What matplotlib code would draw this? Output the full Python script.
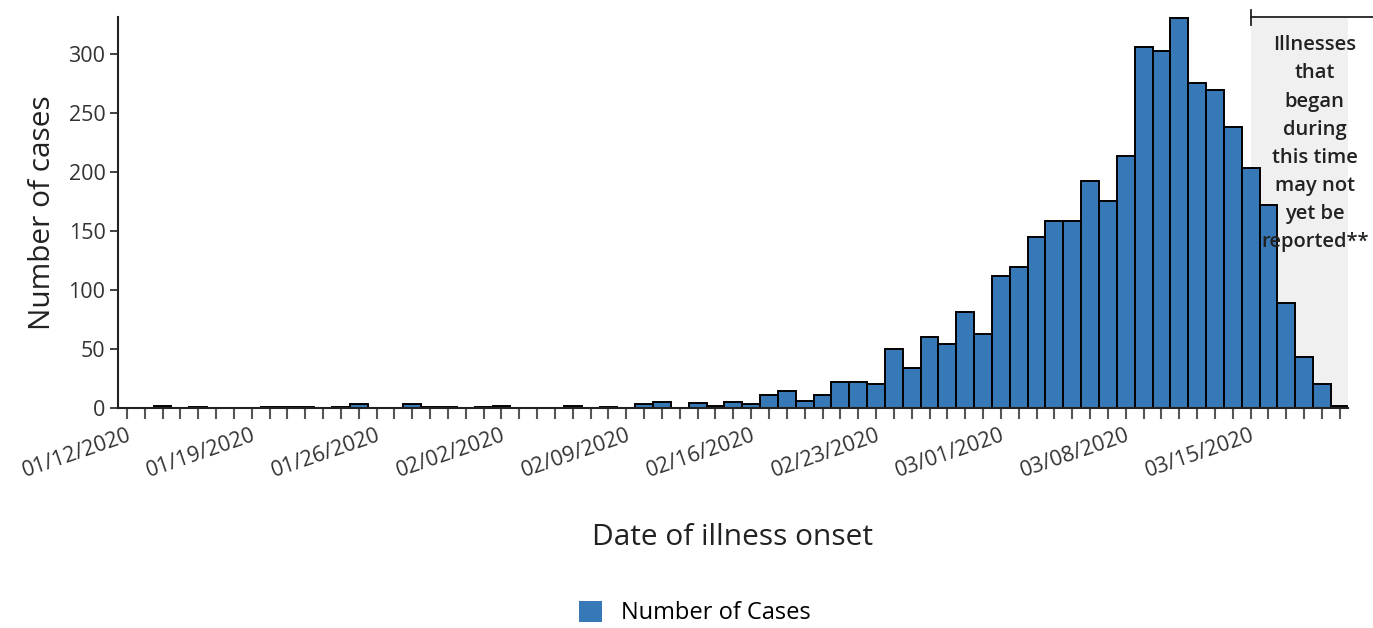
import pandas as pd
import matplotlib.pyplot as plt
import matplotlib.dates as mdates
from matplotlib.patches import Patch

plt.rcParams['font.family'] = ['Open Sans', 'DejaVu Sans']

# ---------------- data
start_date = '2020-01-12'
cases = [0, 0, 2, 0, 1, 0, 0, 0, 1, 1, 1, 0, 1, 3,
         0, 0, 3, 1, 1, 0, 1, 2, 0, 0, 0, 2, 0, 1,
         0, 3, 5, 0, 4, 2, 5, 3, 11, 14, 6, 11, 22, 22,
         20, 50, 34, 60, 54, 81, 63, 112, 119, 145, 158, 158, 192, 175,
         213, 306, 302, 330, 275, 269, 238, 203, 172, 89, 43, 20, 2]
dates = pd.date_range(start_date, periods=len(cases), freq='D')
pending_start = '2020-03-15'
note = "Illnesses\nthat\nbegan\nduring\nthis time\nmay not\nyet be\nreported**"
# ----------------

bar_color = '#3779b6'

fig = plt.figure(figsize=(13.73, 6.28), dpi=100)
ax = fig.add_axes([0.0859, 0.3503, 0.8959, 0.6226])

x = mdates.date2num(dates)
x_pend = mdates.date2num(pd.Timestamp(pending_start))
x_min = x[0] - 0.5
x_max = x[-1] + 0.46

# grey band for the reporting lag
ax.axvspan(x_pend, x_max, ymin=0, ymax=0.998, color='#f0f0f0', zorder=0, lw=0)

ax.bar(x, cases, width=1.0, color=bar_color, edgecolor='black', linewidth=1.4, zorder=2)

ax.set_xlim(x_min, x_max)
ax.set_ylim(0, 331)
ax.set_yticks(range(0, 301, 50))

ax.xaxis.set_major_locator(mdates.WeekdayLocator(byweekday=mdates.SU))
ax.xaxis.set_major_formatter(mdates.DateFormatter('%m/%d/%Y'))
ax.xaxis.set_minor_locator(mdates.DayLocator())

for s in ['top', 'right']:
    ax.spines[s].set_visible(False)
for s in ['left', 'bottom']:
    ax.spines[s].set_color('#222222')
    ax.spines[s].set_linewidth(1.5)

ax.tick_params(axis='y', length=6, width=1.3, color='#333333', labelsize=15.5, labelcolor='#333333', pad=3)
ax.tick_params(axis='x', which='both', length=8, width=1.5, color='#555555', labelsize=15.5, labelcolor='#333333', pad=4)
plt.setp(ax.get_xticklabels(), rotation=19, ha='right', rotation_mode='anchor')

ax.set_ylabel('Number of cases', fontsize=21.5, color='#222222', labelpad=8)
ax.set_xlabel('Date of illness onset', fontsize=21.5, color='#222222', labelpad=30)

# bracket over the grey band
tr = ax.get_xaxis_transform()
ax.plot([x_pend, x_pend + 6.85], [1.0, 1.0], color='#222222', lw=1.3, transform=tr, clip_on=False)
ax.plot([x_pend, x_pend], [0.98, 1.018], color='#222222', lw=1.3, transform=tr, clip_on=False)

ax.text(x_pend + 3.6, 0.676, note, transform=tr, ha='center', va='center',
        fontsize=14.5, fontweight='semibold', color='#222222', linespacing=1.54, zorder=5)

handle = Patch(facecolor=bar_color, edgecolor='none')
fig.legend([handle], ['Number of Cases'], loc='center', bbox_to_anchor=(0.506, 0.024),
           frameon=False, fontsize=17, handlelength=1.0, handleheight=1.0, handletextpad=0.8)

fig.savefig('out.png', dpi=100)
